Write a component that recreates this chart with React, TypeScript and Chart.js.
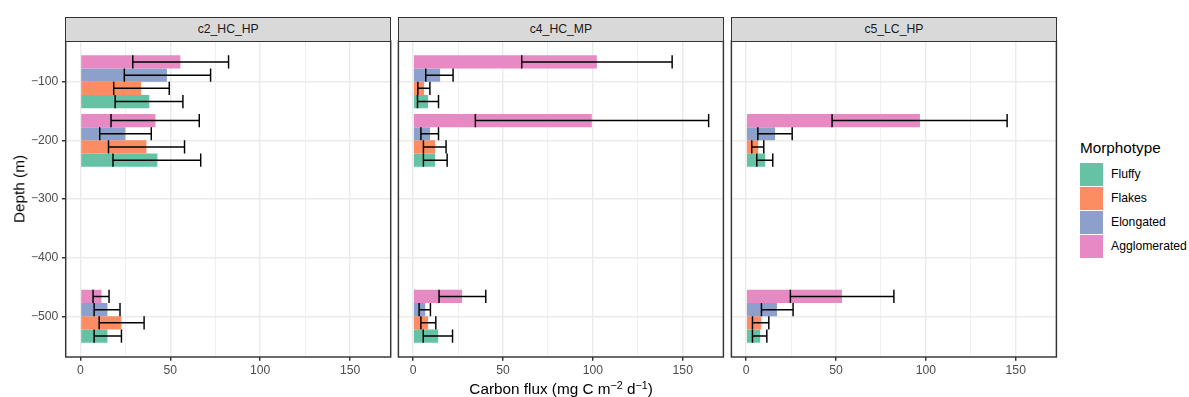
import React, { useEffect, useRef } from 'react';
import { Chart, registerables } from 'chart.js';

Chart.register(...registerables);

// ---------- data ----------
const depths = [-100, -200, -500];
const morphotypes = ['Fluffy', 'Flakes', 'Elongated', 'Agglomerated'];
const morphColors = ['#66C2A5', '#FC8D62', '#8DA0CB', '#E78AC3'];
const sites = ['c2_HC_HP', 'c4_HC_MP', 'c5_LC_HP'];
const xTickLabels = [0, 50, 100, 150];
const yTickLabels = [-500, -400, -300, -200, -100];

// rows: Fluffy, Flakes, Elongated, Agglomerated ; columns: -100, -200, -500 m
const c2Mean = [[38.3, 42.8, 15.0], [33.7, 36.7, 22.8], [48.1, 25.0, 15.0], [55.6, 41.7, 11.7]];
const c2Low = [[19.3, 18.1, 7.6], [18.5, 15.6, 10.4], [24.4, 10.7, 7.6], [29.1, 17.0, 7.0]];
const c2High = [[57.0, 66.9, 22.8], [49.4, 57.9, 35.4], [72.4, 39.4, 22.0], [82.4, 66.1, 15.9]];

const c4Mean = [[8.3, 12.2, 13.9], [6.1, 12.2, 8.3], [15.0, 9.4, 6.7], [102.2, 99.4, 27.2]];
const c4Low = [[2.4, 5.7, 5.6], [2.6, 5.7, 4.3], [7.0, 4.3, 3.3], [60.4, 34.6, 14.4]];
const c4High = [[14.1, 18.9, 21.9], [9.3, 18.3, 12.6], [22.2, 14.1, 9.6], [144.1, 164.4, 40.4]];

const c5Mean = [[null, 10.6, 7.8], [null, 6.7, 8.3], [null, 16.1, 17.2], [null, 96.7, 53.3]];
const c5Low = [[null, 5.9, 3.5], [null, 3.1, 3.5], [null, 6.5, 8.5], [null, 47.8, 24.6]];
const c5High = [[null, 14.8, 11.5], [null, 9.8, 12.6], [null, 25.6, 26.1], [null, 145.2, 82.2]];

const siteMeans = [c2Mean, c4Mean, c5Mean];
const siteLows = [c2Low, c4Low, c5Low];
const siteHighs = [c2High, c4High, c5High];

// ---------- derived ranges (ggplot-like 5% expansion) ----------
const allHigh = ([] as any[]).concat(...siteHighs.map((s) => ([] as any[]).concat(...s))).filter((v) => v != null) as number[];
const dataMaxX = Math.max(...allHigh);
const X_MIN = -0.05 * dataMaxX;
const X_MAX = dataMaxX * 1.05;
const dodge = 0.9 * 100;
const yTop = Math.max(...depths) + dodge / 2;
const yBot = Math.min(...depths) - dodge / 2;
const Y_MIN = yBot - 0.05 * (yTop - yBot);
const Y_MAX = yTop + 0.05 * (yTop - yBot);

// ---------- layout ----------
const FONT = '"Liberation Sans", Arial, Helvetica, sans-serif';
const PANEL_LEFTS = [65.7, 398.4, 731.4];
const PANEL_W = 325;
const PANEL_TOP = 41;
const PANEL_BOTTOM = 357;
const STRIP_TOP = 17.3;
const H = 397;
const LW = 1.45;

const fmtMinus = (v: number) => (v < 0 ? '\u2212' + Math.abs(v) : String(v));

const decorPlugin = {
  id: 'decor',
  afterDatasetsDraw(chart: any) {
    const ctx = chart.ctx;
    const xs = chart.scales.x;
    ctx.save();
    ctx.strokeStyle = '#000000';
    ctx.lineWidth = LW;
    chart.data.datasets.forEach((ds: any, di: number) => {
      const meta = chart.getDatasetMeta(di);
      meta.data.forEach((bar: any, j: number) => {
        const lo = ds.errLow[j];
        const hi = ds.errHigh[j];
        if (lo == null || hi == null) return;
        const p = bar.getProps(['y', 'height'], true);
        const x1 = xs.getPixelForValue(lo);
        const x2 = xs.getPixelForValue(hi);
        const h = p.height / 2;
        ctx.beginPath();
        ctx.moveTo(x1, p.y);
        ctx.lineTo(x2, p.y);
        ctx.moveTo(x1, p.y - h);
        ctx.lineTo(x1, p.y + h);
        ctx.moveTo(x2, p.y - h);
        ctx.lineTo(x2, p.y + h);
        ctx.stroke();
      });
    });
    ctx.restore();
  },
  afterDraw(chart: any) {
    const { left, top, right, bottom } = chart.chartArea;
    const ctx = chart.ctx;
    ctx.save();
    ctx.strokeStyle = '#333333';
    ctx.lineWidth = LW;
    ctx.strokeRect(left, top, right - left, bottom - top);
    ctx.restore();
  },
};

function Panel({ s }: { s: number }) {
  const ref = useRef<HTMLCanvasElement>(null);
  const pl = PANEL_LEFTS[s];
  const canvasLeft = Math.floor(pl) - 60;
  const yw = pl - canvasLeft;
  const cw = Math.ceil(yw + PANEL_W) + 2;
  const padRight = cw - (yw + PANEL_W);

  useEffect(() => {
    const means = siteMeans[s];
    const lows = siteLows[s];
    const highs = siteHighs[s];
    const order = [3, 2, 1, 0];
    const datasets = order.map((m) => ({
      label: morphotypes[m],
      data: depths.map((d, j) => ({ y: d, x: means[m][j] })),
      backgroundColor: morphColors[m],
      borderWidth: 0,
      barPercentage: 1,
      categoryPercentage: 0.9,
      errLow: lows[m],
      errHigh: highs[m],
    }));
    const chart = new Chart(ref.current as HTMLCanvasElement, {
      type: 'bar',
      data: { datasets } as any,
      plugins: [decorPlugin],
      options: {
        indexAxis: 'y',
        animation: false,
        responsive: false,
        devicePixelRatio: 1,
        events: [],
        layout: { padding: { top: PANEL_TOP, right: padRight, left: 0, bottom: 0 } },
        plugins: { legend: { display: false }, tooltip: { enabled: false }, title: { display: false } },
        scales: {
          x: {
            type: 'linear',
            position: 'bottom',
            min: X_MIN,
            max: X_MAX,
            offset: false,
            border: { display: false },
            grid: {
              offset: false,
              color: '#EBEBEB',
              lineWidth: (c: any) => (c.tick && xTickLabels.includes(c.tick.value) ? LW : 0.75),
              tickLength: 3.8,
              tickWidth: LW,
              tickColor: (c: any) => (c.tick && xTickLabels.includes(c.tick.value) ? '#333333' : 'rgba(0,0,0,0)'),
            },
            ticks: {
              stepSize: 25,
              includeBounds: false,
              autoSkip: false,
              maxRotation: 0,
              padding: 3,
              color: '#4D4D4D',
              font: { family: FONT, size: 12.2 },
              callback: (v: any) => (xTickLabels.includes(Number(v)) ? String(v) : ''),
            },
            afterFit: (sc: any) => {
              sc.height = H - PANEL_BOTTOM;
            },
          },
          y: {
            type: 'linear',
            min: Y_MIN,
            max: Y_MAX,
            offset: false,
            border: { display: false },
            grid: {
              offset: false,
              color: '#EBEBEB',
              lineWidth: LW,
              tickLength: 3.8,
              tickWidth: LW,
              tickColor: s === 0 ? '#333333' : 'rgba(0,0,0,0)',
            },
            ticks: {
              display: s === 0,
              stepSize: 100,
              includeBounds: false,
              autoSkip: false,
              padding: 3.5,
              color: '#4D4D4D',
              font: { family: FONT, size: 12.2 },
              callback: (v: any) => (yTickLabels.includes(Number(v)) ? fmtMinus(Number(v)) : ''),
            },
            afterFit: (sc: any) => {
              sc.width = yw;
            },
          },
        },
      } as any,
    });
    return () => chart.destroy();
  }, [s]);

  return (
    <>
      <canvas
        ref={ref}
        width={cw}
        height={H}
        style={{ position: 'absolute', left: canvasLeft, top: 0, width: cw, height: H }}
      />
      <div
        style={{
          position: 'absolute',
          left: pl - LW / 2,
          top: STRIP_TOP,
          width: PANEL_W + LW,
          height: PANEL_TOP - STRIP_TOP + LW / 2,
          boxSizing: 'border-box',
          border: `${LW}px solid #333333`,
          background: '#D9D9D9',
          color: '#1A1A1A',
          fontFamily: FONT,
          fontSize: 12.2,
          display: 'flex',
          alignItems: 'center',
          justifyContent: 'center',
          lineHeight: 1,
        }}
      >
        {sites[s]}
      </div>
    </>
  );
}

export default function App() {
  const keyTops = [163, 187, 211, 235];
  return (
    <div
      style={{
        position: 'absolute',
        left: 0,
        top: 0,
        width: 1189,
        height: H,
        background: '#FFFFFF',
        overflow: 'hidden',
        fontFamily: FONT,
      }}
    >
      {sites.map((_, i) => (
        <Panel key={i} s={i} />
      ))}
      <div
        style={{
          position: 'absolute',
          left: 18.5,
          top: 189,
          transform: 'translate(-50%, -50%) rotate(-90deg)',
          fontSize: 15.3,
          color: '#000000',
          whiteSpace: 'nowrap',
          lineHeight: 1,
        }}
      >
        Depth (m)
      </div>
      <div
        style={{
          position: 'absolute',
          left: (PANEL_LEFTS[0] + PANEL_LEFTS[2] + PANEL_W) / 2,
          top: 381.4,
          transform: 'translateX(-50%)',
          fontSize: 15.3,
          color: '#000000',
          whiteSpace: 'nowrap',
          lineHeight: 1,
        }}
      >
        Carbon flux (mg C m
        <sup style={{ fontSize: '70%', verticalAlign: '0.5em', lineHeight: 0 }}>{'\u2212'}2</sup> d
        <sup style={{ fontSize: '70%', verticalAlign: '0.5em', lineHeight: 0 }}>{'\u2212'}1</sup>)
      </div>
      <div
        style={{
          position: 'absolute',
          left: 1080,
          top: 139.5,
          fontSize: 15.3,
          color: '#000000',
          whiteSpace: 'nowrap',
          lineHeight: 1,
        }}
      >
        Morphotype
      </div>
      {morphotypes.map((m, i) => (
        <React.Fragment key={m}>
          <div
            style={{
              position: 'absolute',
              left: 1080,
              top: keyTops[i],
              width: 22.7,
              height: 22.7,
              background: morphColors[i],
            }}
          />
          <div
            style={{
              position: 'absolute',
              left: 1111,
              top: keyTops[i] + 11.35,
              transform: 'translateY(-50%)',
              fontSize: 12.2,
              color: '#000000',
              whiteSpace: 'nowrap',
              lineHeight: 1,
            }}
          >
            {m}
          </div>
        </React.Fragment>
      ))}
    </div>
  );
}
